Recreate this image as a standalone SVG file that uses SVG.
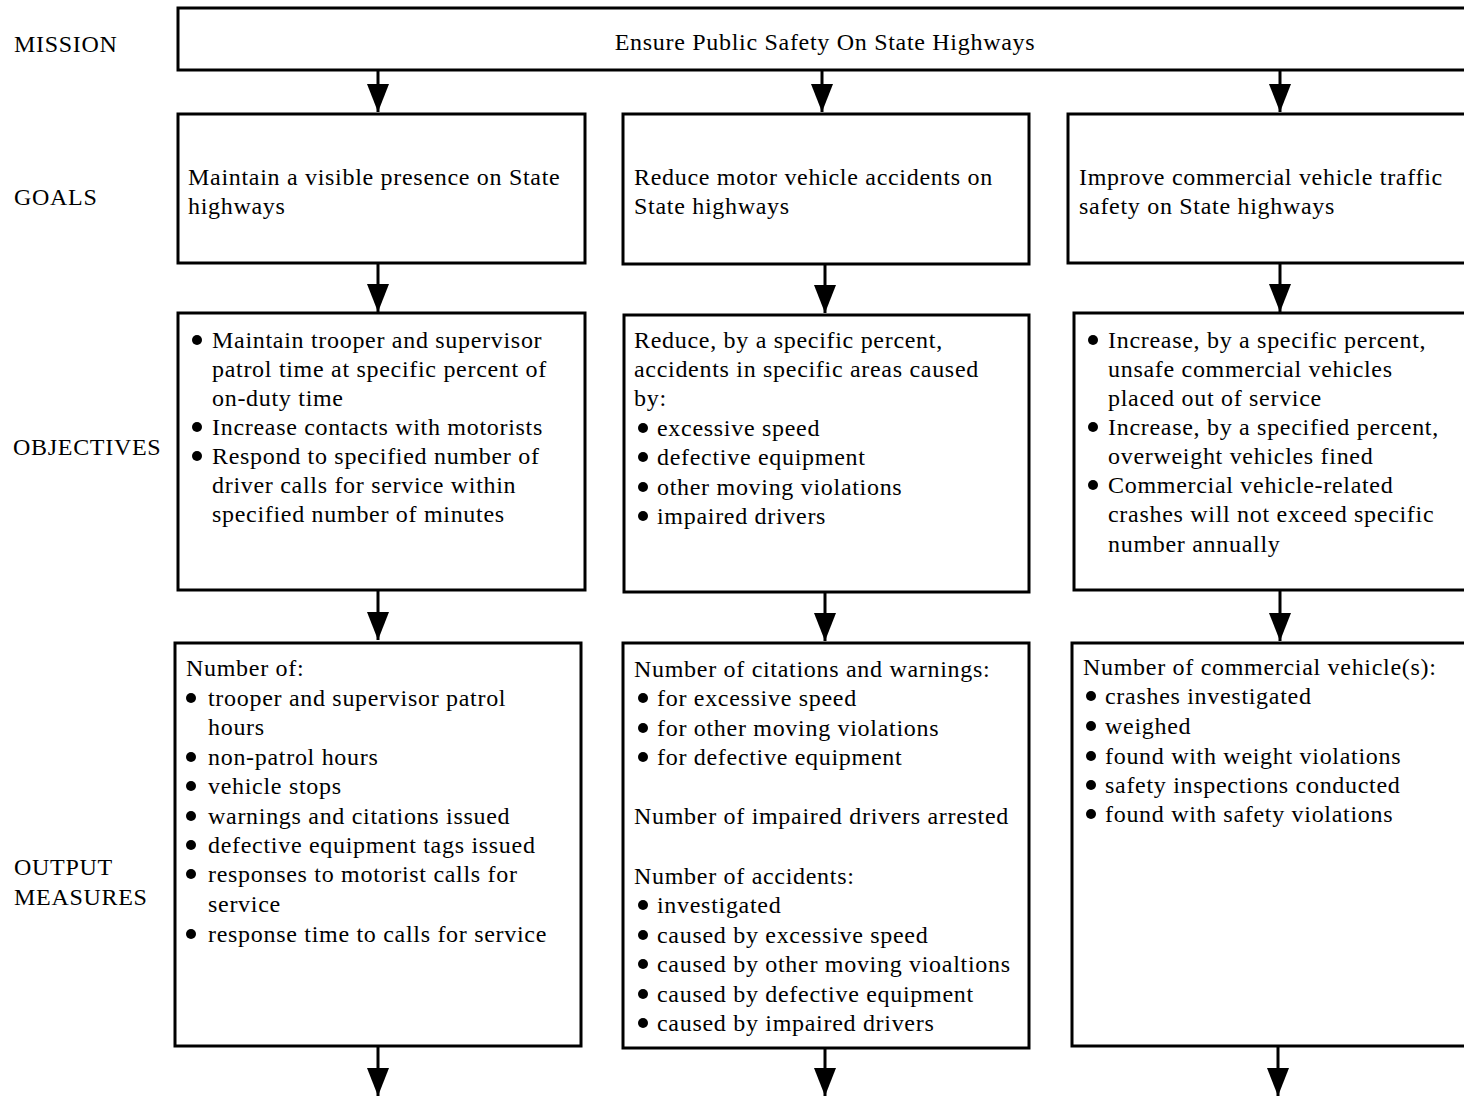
<svg xmlns="http://www.w3.org/2000/svg" width="1464" height="1099" viewBox="0 0 1464 1099">
  <style>
    text { font-family: "Liberation Serif", "Times New Roman", serif; font-size: 24px; letter-spacing: 0.7px; fill: #000; }
    .box { fill: #fff; stroke: #000; stroke-width: 3; }
    .conn { stroke: #000; stroke-width: 3; fill: none; }
    .dot { fill: #000; }
  </style>
  <defs>
    <marker id="head" markerUnits="userSpaceOnUse" markerWidth="28" markerHeight="22" viewBox="0 0 28 22" refX="28" refY="11" orient="auto">
      <path d="M0,0 L28,11 L0,22 Z" fill="#000"/>
    </marker>
  </defs>

  <rect width="1464" height="1099" fill="#fff"/>

  <!-- row labels -->
  <g id="labels">
    <text x="14" y="52">MISSION</text>
    <text x="14" y="205">GOALS</text>
    <text x="13" y="455">OBJECTIVES</text>
    <text x="14" y="875">OUTPUT</text>
    <text x="14" y="905">MEASURES</text>
  </g>

  <!-- connectors -->
  <g id="connectors">
    <line class="conn" x1="378" y1="70" x2="378" y2="112" marker-end="url(#head)"/>
    <line class="conn" x1="822" y1="70" x2="822" y2="112" marker-end="url(#head)"/>
    <line class="conn" x1="1280" y1="70" x2="1280" y2="112" marker-end="url(#head)"/>

    <line class="conn" x1="378" y1="263" x2="378" y2="312" marker-end="url(#head)"/>
    <line class="conn" x1="825" y1="263" x2="825" y2="313" marker-end="url(#head)"/>
    <line class="conn" x1="1280" y1="263" x2="1280" y2="312" marker-end="url(#head)"/>

    <line class="conn" x1="378" y1="590" x2="378" y2="640" marker-end="url(#head)"/>
    <line class="conn" x1="825" y1="592" x2="825" y2="641" marker-end="url(#head)"/>
    <line class="conn" x1="1280" y1="590" x2="1280" y2="641" marker-end="url(#head)"/>

    <line class="conn" x1="378" y1="1046" x2="378" y2="1096" marker-end="url(#head)"/>
    <line class="conn" x1="825" y1="1048" x2="825" y2="1096" marker-end="url(#head)"/>
    <line class="conn" x1="1278" y1="1046" x2="1278" y2="1096" marker-end="url(#head)"/>
  </g>

  <!-- mission -->
  <g id="mission">
    <rect class="box" x="178" y="8" width="1320" height="62"/>
    <text x="825" y="50" text-anchor="middle">Ensure Public Safety On State Highways</text>
  </g>

  <!-- goals -->
  <g id="goal-presence">
    <rect class="box" x="178" y="114" width="407" height="149"/>
    <text x="188" y="185">Maintain a visible presence on State</text>
    <text x="188" y="214">highways</text>
  </g>
  <g id="goal-accidents">
    <rect class="box" x="623" y="114" width="406" height="150"/>
    <text x="634" y="185">Reduce motor vehicle accidents on</text>
    <text x="634" y="214">State highways</text>
  </g>
  <g id="goal-commercial">
    <rect class="box" x="1068" y="114" width="430" height="149"/>
    <text x="1079" y="185">Improve commercial vehicle traffic</text>
    <text x="1079" y="214">safety on State highways</text>
  </g>

  <!-- objectives -->
  <g id="obj-presence">
    <rect class="box" x="178" y="313" width="407" height="277"/>
    <circle class="dot" cx="197" cy="340" r="5"/>
    <text x="212" y="348">Maintain trooper and supervisor</text>
    <text x="212" y="377">patrol time at specific percent of</text>
    <text x="212" y="406">on-duty time</text>
    <circle class="dot" cx="197" cy="427" r="5"/>
    <text x="212" y="435">Increase contacts with motorists</text>
    <circle class="dot" cx="197" cy="456" r="5"/>
    <text x="212" y="464">Respond to specified number of</text>
    <text x="212" y="493">driver calls for service within</text>
    <text x="212" y="522">specified number of minutes</text>
  </g>
  <g id="obj-accidents">
    <rect class="box" x="624" y="315" width="405" height="277"/>
    <text x="634" y="348">Reduce, by a specific percent,</text>
    <text x="634" y="377">accidents in specific areas caused</text>
    <text x="634" y="406">by:</text>
    <circle class="dot" cx="643" cy="428" r="5"/>
    <text x="657" y="436">excessive speed</text>
    <circle class="dot" cx="643" cy="457" r="5"/>
    <text x="657" y="465">defective equipment</text>
    <circle class="dot" cx="643" cy="487" r="5"/>
    <text x="657" y="495">other moving violations</text>
    <circle class="dot" cx="643" cy="516" r="5"/>
    <text x="657" y="524">impaired drivers</text>
  </g>
  <g id="obj-commercial">
    <rect class="box" x="1074" y="313" width="424" height="277"/>
    <circle class="dot" cx="1093" cy="340" r="5"/>
    <text x="1108" y="348">Increase, by a specific percent,</text>
    <text x="1108" y="377">unsafe commercial vehicles</text>
    <text x="1108" y="406">placed out of service</text>
    <circle class="dot" cx="1093" cy="427" r="5"/>
    <text x="1108" y="435">Increase, by a specified percent,</text>
    <text x="1108" y="464">overweight vehicles fined</text>
    <circle class="dot" cx="1093" cy="485" r="5"/>
    <text x="1108" y="493">Commercial vehicle-related</text>
    <text x="1108" y="522">crashes will not exceed specific</text>
    <text x="1108" y="552">number annually</text>
  </g>

  <!-- output measures -->
  <g id="out-presence">
    <rect class="box" x="175" y="643" width="406" height="403"/>
    <text x="186" y="676">Number of:</text>
    <circle class="dot" cx="191" cy="698" r="5"/>
    <text x="208" y="706">trooper and supervisor patrol</text>
    <text x="208" y="735">hours</text>
    <circle class="dot" cx="191" cy="757" r="5"/>
    <text x="208" y="765">non-patrol hours</text>
    <circle class="dot" cx="191" cy="786" r="5"/>
    <text x="208" y="794">vehicle stops</text>
    <circle class="dot" cx="191" cy="816" r="5"/>
    <text x="208" y="824">warnings and citations issued</text>
    <circle class="dot" cx="191" cy="845" r="5"/>
    <text x="208" y="853">defective equipment tags issued</text>
    <circle class="dot" cx="191" cy="874" r="5"/>
    <text x="208" y="882">responses to motorist calls for</text>
    <text x="208" y="912">service</text>
    <circle class="dot" cx="191" cy="934" r="5"/>
    <text x="208" y="942">response time to calls for service</text>
  </g>
  <g id="out-accidents">
    <rect class="box" x="623" y="643" width="406" height="405"/>
    <text x="634" y="677">Number of citations and warnings:</text>
    <circle class="dot" cx="643" cy="698" r="5"/>
    <text x="657" y="706">for excessive speed</text>
    <circle class="dot" cx="643" cy="728" r="5"/>
    <text x="657" y="736">for other moving violations</text>
    <circle class="dot" cx="643" cy="757" r="5"/>
    <text x="657" y="765">for defective equipment</text>
    <text x="634" y="824">Number of impaired drivers arrested</text>
    <text x="634" y="884">Number of accidents:</text>
    <circle class="dot" cx="643" cy="905" r="5"/>
    <text x="657" y="913">investigated</text>
    <circle class="dot" cx="643" cy="935" r="5"/>
    <text x="657" y="943">caused by excessive speed</text>
    <circle class="dot" cx="643" cy="964" r="5"/>
    <text x="657" y="972">caused by other moving vioaltions</text>
    <circle class="dot" cx="643" cy="994" r="5"/>
    <text x="657" y="1002">caused by defective equipment</text>
    <circle class="dot" cx="643" cy="1023" r="5"/>
    <text x="657" y="1031">caused by impaired drivers</text>
  </g>
  <g id="out-commercial">
    <rect class="box" x="1072" y="643" width="426" height="403"/>
    <text x="1083" y="675">Number of commercial vehicle(s):</text>
    <circle class="dot" cx="1091" cy="696" r="5"/>
    <text x="1105" y="704">crashes investigated</text>
    <circle class="dot" cx="1091" cy="726" r="5"/>
    <text x="1105" y="734">weighed</text>
    <circle class="dot" cx="1091" cy="756" r="5"/>
    <text x="1105" y="764">found with weight violations</text>
    <circle class="dot" cx="1091" cy="785" r="5"/>
    <text x="1105" y="793">safety inspections conducted</text>
    <circle class="dot" cx="1091" cy="814" r="5"/>
    <text x="1105" y="822">found with safety violations</text>
  </g>
</svg>
